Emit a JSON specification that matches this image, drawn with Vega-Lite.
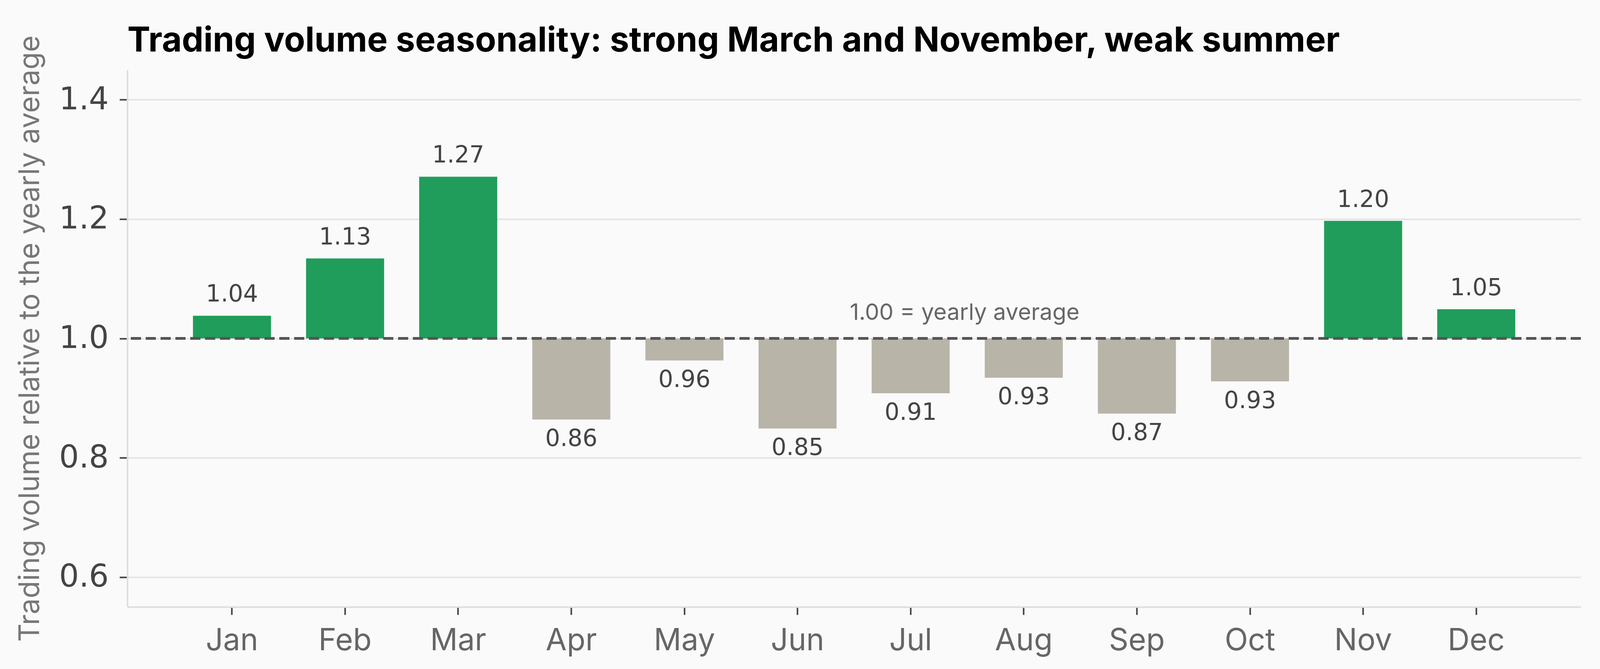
{
  "$schema": "https://vega.github.io/schema/vega-lite/v6.json",
  "autosize": {"type": "fit", "contains": "padding"},
  "width": "container",
  "height": 1713,
  "padding": {"left": 41, "top": 151, "right": 46, "bottom": 33},
  "background": "#fafafa",
  "config": {"view": {"stroke": null}},
  "title": {
    "text": "Trading volume seasonality: strong March and November, weak summer",
    "anchor": "start",
    "frame": "group",
    "font": "Inter",
    "fontWeight": "bold",
    "fontSize": 88,
    "color": "#000000",
    "baseline": "alphabetic",
    "offset": -130
  },
  "data": {
    "values": [
      {"month": "Jan", "v": 1.038},
      {"month": "Feb", "v": 1.134},
      {"month": "Mar", "v": 1.271},
      {"month": "Apr", "v": 0.864},
      {"month": "May", "v": 0.963},
      {"month": "Jun", "v": 0.849},
      {"month": "Jul", "v": 0.908},
      {"month": "Aug", "v": 0.934},
      {"month": "Sep", "v": 0.874},
      {"month": "Oct", "v": 0.928},
      {"month": "Nov", "v": 1.197},
      {"month": "Dec", "v": 1.049}
    ]
  },
  "encoding": {
    "x": {
      "field": "month",
      "type": "nominal",
      "sort": null,
      "scale": {"paddingInner": 0.31, "paddingOuter": 0.58},
      "axis": {
        "title": null,
        "labelAngle": 0,
        "labelFont": "Inter",
        "labelFontSize": 78,
        "labelColor": "#666666",
        "labelPadding": 28,
        "tickColor": "#444444",
        "tickSize": 20,
        "tickWidth": 4,
        "domainColor": "#dddddd",
        "domainWidth": 4,
        "grid": false
      }
    }
  },
  "layer": [
    {
      "mark": {"type": "bar"},
      "encoding": {
        "y": {
          "field": "v",
          "type": "quantitative",
          "scale": {"domain": [0.55, 1.45], "nice": false, "zero": false},
          "axis": {
            "title": "Trading volume relative to the yearly average",
            "titleFont": "Inter",
            "titleFontSize": 73,
            "titleFontWeight": "normal",
            "titleColor": "#777777",
            "titlePadding": 36,
            "values": [0.6, 0.8, 1.0, 1.2, 1.4],
            "format": ".1f",
            "labelFont": "DejaVu Sans",
            "labelFontSize": 80,
            "labelColor": "#444444",
            "labelPadding": 28,
            "tickColor": "#444444",
            "tickSize": 20,
            "tickWidth": 4,
            "domainColor": "#dddddd",
            "domainWidth": 4,
            "gridColor": "#e4e4e4",
            "gridWidth": 4
          }
        },
        "y2": {"datum": 1},
        "color": {
          "condition": {"test": "datum.v >= 1", "value": "#209d5a"},
          "value": "#b8b4a8"
        }
      }
    },
    {
      "transform": [{"filter": "datum.v >= 1"}],
      "mark": {"type": "text", "font": "DejaVu Sans", "fontSize": 60, "color": "#444444", "baseline": "alphabetic", "dy": -36},
      "encoding": {
        "y": {"field": "v", "type": "quantitative"},
        "text": {"field": "v", "type": "quantitative", "format": ".2f"}
      }
    },
    {
      "transform": [{"filter": "datum.v < 1"}],
      "mark": {"type": "text", "font": "DejaVu Sans", "fontSize": 60, "color": "#444444", "baseline": "alphabetic", "dy": 68},
      "encoding": {
        "y": {"field": "v", "type": "quantitative"},
        "text": {"field": "v", "type": "quantitative", "format": ".2f"}
      }
    },
    {
      "mark": {"type": "rule", "color": "#555555", "strokeWidth": 6, "strokeDash": [26, 12]},
      "encoding": {"x": null, "y": {"datum": 1}}
    },
    {
      "data": {"values": [{"month": "Jul", "note": "1.00 = yearly average"}]},
      "mark": {"type": "text", "font": "Inter", "fontSize": 58, "color": "#666666", "align": "left", "baseline": "alphabetic", "dx": -56, "dy": -48},
      "encoding": {
        "x": {"field": "month", "type": "nominal", "bandPosition": 0},
        "y": {"datum": 1},
        "text": {"field": "note"}
      }
    }
  ]
}
